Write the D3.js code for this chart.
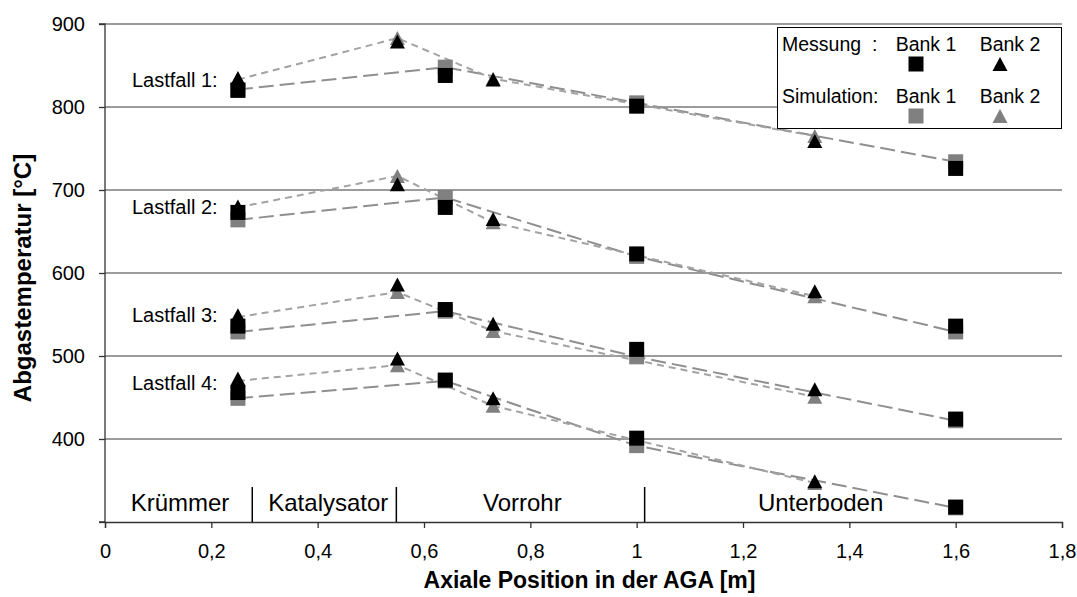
<!DOCTYPE html>
<html>
<head>
<meta charset="utf-8">
<script src="https://cdn.jsdelivr.net/npm/d3@7"></script>
<style>
    body { margin: 0; background: #fff; }
    svg { font-family: "Liberation Sans", Arial, sans-serif; }
</style>
</head>
<body>
<svg class="main" width="1077" height="597"></svg>
<script>
// axial positions of the measuring points (m)
var posBank1 = [0.25, 0.64, 1.0, 1.6],
    posBank2 = [0.25, 0.55, 0.73, 1.335];

// one row per load case, values in °C
var loadCases = ['Lastfall 1:', 'Lastfall 2:', 'Lastfall 3:', 'Lastfall 4:'],
    loadCaseLabelAt = [833, 680, 550, 468],
    messBank1 = [
        [820, 838, 801, 726],
        [673, 679, 623, 536],
        [536, 556, 508, 424],
        [456, 471, 401, 318]
    ],
    messBank2 = [
        [835, 879, 833, 759],
        [680, 707, 665, 578],
        [549, 586, 539, 460],
        [473, 497, 449, 349]
    ],
    simBank1 = [
        [821, 848, 805, 734],
        [664, 691, 620, 529],
        [529, 554, 499, 422],
        [449, 470, 392, 317]
    ],
    simBank2 = [
        [833, 883, 834, 765],
        [679, 717, 661, 572],
        [547, 577, 530, 451],
        [470, 489, 440, 347]
    ];

var sections = ['Krümmer', 'Katalysator', 'Vorrohr', 'Unterboden'],
    sectionCenters = [0.141, 0.42, 0.785, 1.346],
    sectionBounds = [0.277, 0.548, 1.015],
    xTicks = [0, 0.2, 0.4, 0.6, 0.8, 1, 1.2, 1.4, 1.6, 1.8],
    yTicks = [300, 400, 500, 600, 700, 800, 900],
    legendRows = ['Messung  :', 'Simulation:'],
    legendBanks = ['Bank 1', 'Bank 2'];

var black = '#000',
    gray = '#808080',
    lineGray = '#8f8f8f',
    gridStroke = '#7a7a7a',
    sq = 15, // square side (px)
    triW = 15,
    triH = 14;

var svg = d3.select('.main');

var x = d3.scaleLinear().domain([0, 1.8]).range([105, 1062]),
    y = d3.scaleLinear().domain([300, 900]).range([522, 24]);

function triPath(w, h) {
    return 'M0,' + (-h / 2) + 'L' + (w / 2) + ',' + (h / 2) + 'L' + (-w / 2) + ',' + (h / 2) + 'Z';
}

// grid lines
svg.append('g')
    .selectAll('line')
    .data(yTicks.filter(d => d > 300))
    .enter().append('line')
    .attr('x1', x(0))
    .attr('x2', x(1.8))
    .attr('y1', d => y(d))
    .attr('y2', d => y(d))
    .attr('stroke', gridStroke)
    .attr('stroke-width', 1.5);

// axes
var yAxis = svg.append('g')
    .attr('transform', 'translate(' + x(0) + ',0)')
    .call(d3.axisLeft(y)
        .tickValues(yTicks)
        .tickSize(6)
        .tickPadding(14)
        .tickFormat(d => d === 300 ? '' : d));

var xAxis = svg.append('g')
    .attr('transform', 'translate(0,' + y(300) + ')')
    .call(d3.axisBottom(x)
        .tickValues(xTicks)
        .tickSize(6)
        .tickPadding(16)
        .tickFormat(d => String(d).replace('.', ',')));

[yAxis, xAxis].forEach(function(ax) {
    ax.selectAll('.domain').attr('stroke', '#333').attr('stroke-width', 1.3);
    ax.selectAll('.tick line').attr('stroke', '#333').attr('stroke-width', 1.3);
    ax.selectAll('text')
        .style('font-family', '"Liberation Sans", Arial, sans-serif')
        .style('font-size', '20px')
        .attr('fill', '#000');
});
yAxis.select('.domain').attr('d', 'M-6,' + y(300) + 'H0V' + y(900) + 'H-6');

// axis titles
svg.append('text')
    .attr('x', (x(0) + x(1.8)) / 2 + 6)
    .attr('y', 588)
    .attr('text-anchor', 'middle')
    .style('font-size', '23px')
    .style('font-weight', 'bold')
    .text('Axiale Position in der AGA [m]');

svg.append('text')
    .attr('transform', 'translate(31,' + 278 + ') rotate(-90)')
    .attr('text-anchor', 'middle')
    .style('font-size', '24px')
    .style('font-weight', 'bold')
    .text('Abgastemperatur [°C]');

// sections of the exhaust system
svg.append('g')
    .selectAll('line')
    .data(sectionBounds)
    .enter().append('line')
    .attr('x1', d => x(d))
    .attr('x2', d => x(d))
    .attr('y1', y(300) - 35)
    .attr('y2', y(300))
    .attr('stroke', '#000')
    .attr('stroke-width', 1.5);

svg.append('g')
    .selectAll('text')
    .data(sections)
    .enter().append('text')
    .attr('x', (d, i) => x(sectionCenters[i]))
    .attr('y', y(300) - 11)
    .attr('text-anchor', 'middle')
    .style('font-size', '24px')
    .text(d => d);

// simulation lines
var line = d3.line()
    .x(d => x(d[0]))
    .y(d => y(d[1]));

svg.append('g')
    .selectAll('path')
    .data(simBank1)
    .enter().append('path')
    .attr('d', vals => line(vals.map((v, i) => [posBank1[i], v])))
    .attr('fill', 'none')
    .attr('stroke', lineGray)
    .attr('stroke-width', 2)
    .attr('stroke-dasharray', '15,6');

svg.append('g')
    .selectAll('path')
    .data(simBank2)
    .enter().append('path')
    .attr('d', vals => line(vals.map((v, i) => [posBank2[i], v])))
    .attr('fill', 'none')
    .attr('stroke', '#a3a3a3')
    .attr('stroke-width', 2)
    .attr('stroke-dasharray', '7,5');

// markers
function squares(rows, pos, fill) {
    var pts = [];
    rows.forEach(r => r.forEach((v, i) => pts.push([pos[i], v])));
    svg.append('g')
        .selectAll('rect')
        .data(pts)
        .enter().append('rect')
        .attr('x', d => x(d[0]) - sq / 2)
        .attr('y', d => y(d[1]) - sq / 2)
        .attr('width', sq)
        .attr('height', sq)
        .attr('fill', fill);
}

function triangles(rows, pos, fill) {
    var pts = [];
    rows.forEach(r => r.forEach((v, i) => pts.push([pos[i], v])));
    svg.append('g')
        .selectAll('path')
        .data(pts)
        .enter().append('path')
        .attr('d', triPath(triW, triH))
        .attr('transform', d => 'translate(' + x(d[0]) + ',' + y(d[1]) + ')')
        .attr('fill', fill);
}

squares(simBank1, posBank1, gray);
triangles(simBank2, posBank2, gray);
squares(messBank1, posBank1, black);
triangles(messBank2, posBank2, black);

// load case labels
svg.append('g')
    .selectAll('text')
    .data(loadCases)
    .enter().append('text')
    .attr('x', 132)
    .attr('y', (d, i) => y(loadCaseLabelAt[i]))
    .attr('dy', '0.35em')
    .style('font-size', '20px')
    .text(d => d);

// legend
var legend = svg.append('g').attr('class', 'legend');

legend.append('rect')
    .attr('x', 777.5)
    .attr('y', 27.5)
    .attr('width', 284)
    .attr('height', 101)
    .attr('fill', '#fff')
    .attr('stroke', '#000')
    .attr('stroke-width', 1);

legendRows.forEach(function(label, r) {
    var rowY = 51 + r * 52,
        fill = r === 0 ? black : gray;

    legend.append('text')
        .attr('x', 782)
        .attr('y', rowY)
        .style('font-size', '19.5px')
        .attr('xml:space', 'preserve')
        .text(label);

    legendBanks.forEach(function(b, k) {
        var cx = 926 + k * 84;
        legend.append('text')
            .attr('x', cx)
            .attr('y', rowY)
            .attr('text-anchor', 'middle')
            .style('font-size', '19.5px')
            .text(b);
        if (k === 0) {
            legend.append('rect')
                .attr('x', cx - 10 - sq / 2)
                .attr('y', rowY + 12 - sq / 2 + 1)
                .attr('width', sq)
                .attr('height', sq)
                .attr('fill', fill);
        } else {
            legend.append('path')
                .attr('d', triPath(triW, triH))
                .attr('transform', 'translate(' + (cx - 10) + ',' + (rowY + 13) + ')')
                .attr('fill', fill);
        }
    });
});
</script>
</body>
</html>
